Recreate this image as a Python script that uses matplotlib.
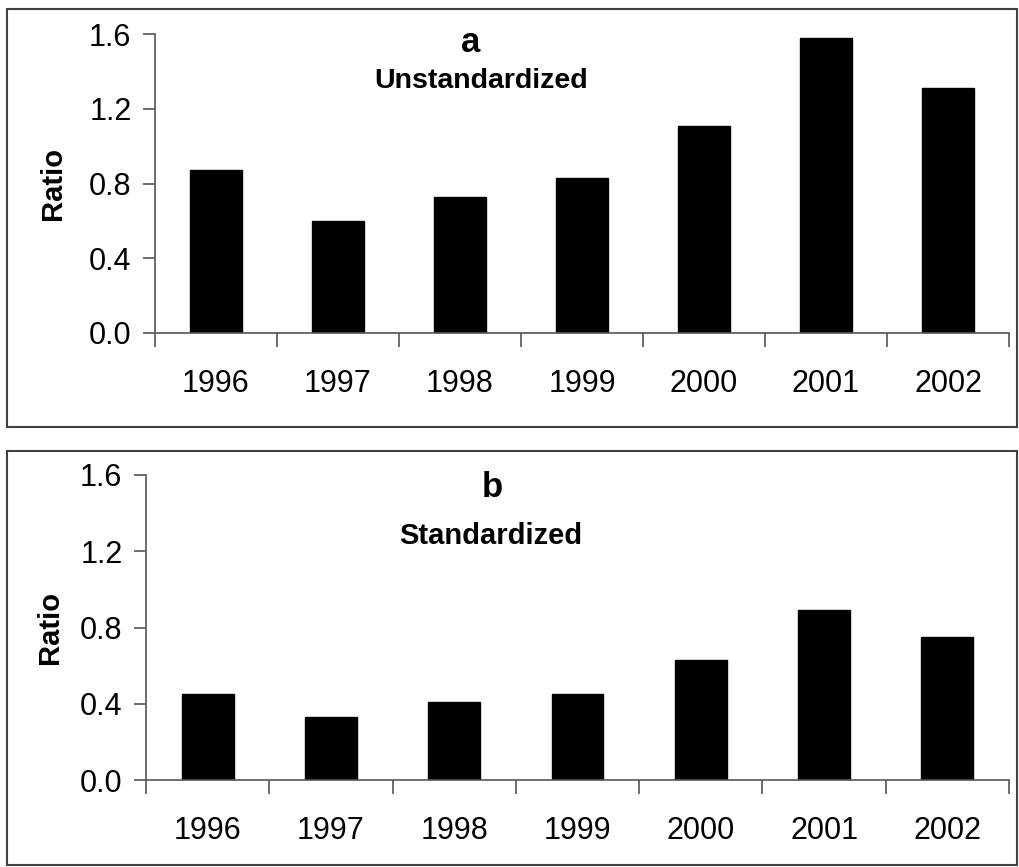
import numpy as np
import matplotlib
matplotlib.use("Agg")
from matplotlib import pyplot as plt
from matplotlib.patches import Rectangle

plt.rcParams['font.family'] = ['Liberation Sans', 'DejaVu Sans']

years = ['1996', '1997', '1998', '1999', '2000', '2001', '2002']
unstandardized = [0.87, 0.60, 0.73, 0.83, 1.11, 1.58, 1.31]
standardized = [0.45, 0.33, 0.41, 0.45, 0.63, 0.89, 0.75]
yticks = [0.0, 0.4, 0.8, 1.2, 1.6]

W, H = 1019, 867
fig = plt.figure(figsize=(W / 100, H / 100), dpi=100)

def px_axes(x0, x1, y0, y1):
    # y0 top, y1 bottom in pixels
    return fig.add_axes([x0 / W, 1 - y1 / H, (x1 - x0) / W, (y1 - y0) / H])

def frame(x0, x1, y0, y1):
    fig.patches.append(Rectangle((x0 / W, 1 - y1 / H), (x1 - x0) / W, (y1 - y0) / H,
                                 transform=fig.transFigure, fill=False,
                                 edgecolor='#404040', linewidth=1.5))

def panel(ax, values, letter, subtitle, letter_xy, sub_xy, sub_size, labelpad):
    x = np.arange(len(years))
    ax.bar(x, values, width=0.42, color='black', edgecolor='black')
    ax.set_xlim(-0.5, len(years) - 0.5)
    ax.set_ylim(0, 1.6)
    for s in ['top', 'right']:
        ax.spines[s].set_visible(False)
    for s in ['left', 'bottom']:
        ax.spines[s].set_color('#555555')
        ax.spines[s].set_linewidth(1.2)
    ax.set_yticks(yticks)
    ax.set_yticklabels(['%.1f' % v for v in yticks], fontsize=22)
    ax.tick_params(axis='y', direction='out', length=9, width=1.2, color='#555555', pad=8)
    ax.set_xticks(np.arange(-0.5, len(years), 1.0))
    ax.set_xticklabels([])
    ax.tick_params(axis='x', which='major', direction='out', length=10, width=1.2, color='#555555')
    ax.set_xticks(x, minor=True)
    ax.set_xticklabels(years, minor=True, fontsize=22)
    ax.tick_params(axis='x', which='minor', length=0, pad=26)
    ax.set_ylabel('Ratio', fontsize=21, fontweight='bold', labelpad=labelpad)
    ax.text(letter_xy[0], letter_xy[1], letter, transform=ax.transAxes, ha='center', va='center',
            fontsize=25, fontweight='bold')
    ax.text(sub_xy[0], sub_xy[1], subtitle, transform=ax.transAxes, ha='center', va='center',
            fontsize=sub_size, fontweight='bold')

frame(7, 1017, 9, 427)
frame(7, 1017, 451, 865)

ax1 = px_axes(155, 1009, 34, 333)
panel(ax1, unstandardized, 'a', 'Unstandardized', (0.369, 0.97), (0.382, 0.843), 20.5, 15.5)

ax2 = px_axes(146, 1009, 475, 780)
panel(ax2, standardized, 'b', 'Standardized', (0.401, 0.96), (0.40, 0.80), 21, 11)

fig.savefig('out.png', dpi=100)
